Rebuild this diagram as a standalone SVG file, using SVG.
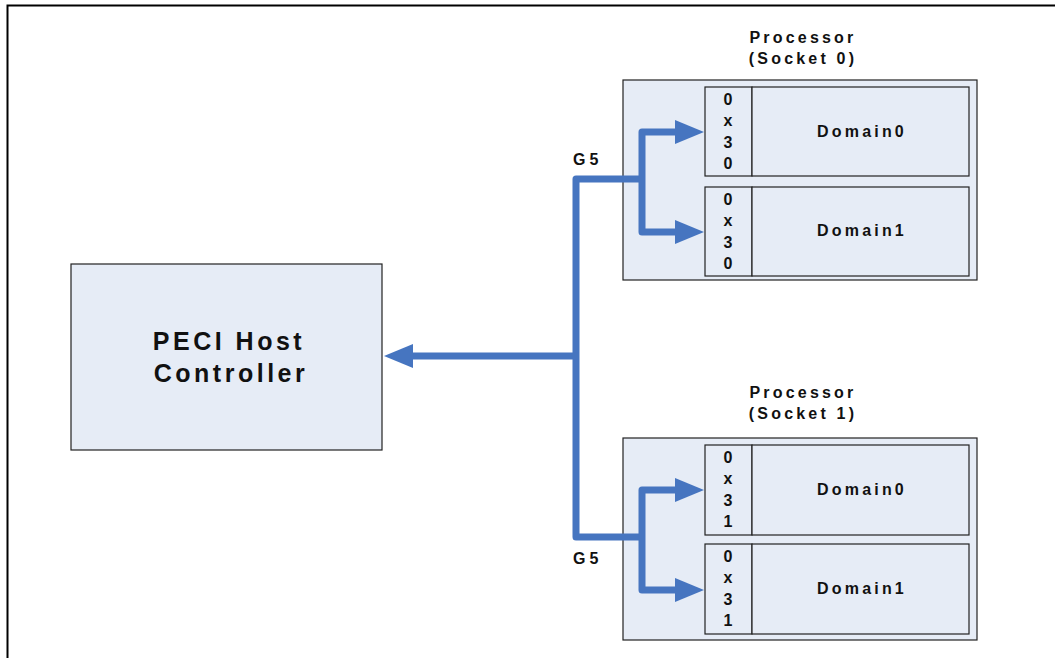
<svg xmlns="http://www.w3.org/2000/svg" width="1055" height="658" viewBox="0 0 1055 658">
<style>
.box{fill:#E6ECF6;stroke:#222;stroke-width:1.2}
.t{font-family:"Liberation Sans",Arial,sans-serif;font-weight:bold;fill:#111}
.lbl{font-size:16px;letter-spacing:3.2px;text-anchor:middle}
.dom{font-size:16px;letter-spacing:3.2px;text-anchor:middle}
.adr{font-size:16px;text-anchor:middle}
.host{font-size:25px;letter-spacing:3.5px;text-anchor:middle}
.g5{font-size:16px;letter-spacing:4px}
.bus{fill:none;stroke:#4675C0;stroke-width:7;stroke-linejoin:round}
</style>
<defs>
<marker id="ah" viewBox="0 0 29 24" refX="0" refY="12" markerWidth="29" markerHeight="24" markerUnits="userSpaceOnUse" orient="auto">
<path d="M0,0 L29,12 L0,24 z" fill="#4675C0"/>
</marker>
</defs>
<rect width="1055" height="658" fill="#fff"/>
<path d="M7.5,658 V5.5 H1055" fill="none" stroke="#000" stroke-width="2"/>

<g id="host">
<rect class="box" x="71" y="264" width="311" height="186"/>
<text class="t host" x="229" y="350">PECI Host</text>
<text class="t host" x="231" y="382">Controller</text>
</g>

<g id="socket0">
<text class="t lbl" x="803" y="43">Processor</text>
<text class="t lbl" x="803" y="64">(Socket 0)</text>
<rect class="box" x="623" y="80" width="354" height="200"/>
<g id="s0d0">
<rect class="box" x="705" y="87" width="47" height="89"/>
<rect class="box" x="752" y="87" width="217" height="89"/>
<text class="t adr" x="728"><tspan x="728" y="105">0</tspan><tspan x="728" y="126">x</tspan><tspan x="728" y="147.5">3</tspan><tspan x="728" y="169">0</tspan></text>
<text class="t dom" x="862" y="137">Domain0</text>
</g>
<g id="s0d1">
<rect class="box" x="705" y="187" width="47" height="89"/>
<rect class="box" x="752" y="187" width="217" height="89"/>
<text class="t adr" x="728"><tspan x="728" y="205">0</tspan><tspan x="728" y="226">x</tspan><tspan x="728" y="247.5">3</tspan><tspan x="728" y="269">0</tspan></text>
<text class="t dom" x="862" y="236">Domain1</text>
</g>
</g>

<g id="socket1">
<text class="t lbl" x="803" y="398">Processor</text>
<text class="t lbl" x="803" y="419">(Socket 1)</text>
<rect class="box" x="623" y="438" width="354" height="202"/>
<g id="s1d0">
<rect class="box" x="705" y="445" width="47" height="90"/>
<rect class="box" x="752" y="445" width="217" height="90"/>
<text class="t adr" x="728"><tspan x="728" y="463">0</tspan><tspan x="728" y="484">x</tspan><tspan x="728" y="505.5">3</tspan><tspan x="728" y="527">1</tspan></text>
<text class="t dom" x="862" y="495">Domain0</text>
</g>
<g id="s1d1">
<rect class="box" x="705" y="544" width="47" height="90"/>
<rect class="box" x="752" y="544" width="217" height="90"/>
<text class="t adr" x="728"><tspan x="728" y="562">0</tspan><tspan x="728" y="583">x</tspan><tspan x="728" y="604.5">3</tspan><tspan x="728" y="626">1</tspan></text>
<text class="t dom" x="862" y="594">Domain1</text>
</g>
</g>

<g id="connectors">
<path class="bus" d="M642,179 H576 V537 H642"/>
<path class="bus" d="M642,179 V132 H675" marker-end="url(#ah)"/>
<path class="bus" d="M642,179 V232 H675" marker-end="url(#ah)"/>
<path class="bus" d="M642,537 V490 H675" marker-end="url(#ah)"/>
<path class="bus" d="M642,537 V590 H675" marker-end="url(#ah)"/>
<path class="bus" d="M579,356 H413" marker-end="url(#ah)"/>
<text class="t g5" x="573" y="165">G5</text>
<text class="t g5" x="573" y="564">G5</text>
</g>
</svg>
